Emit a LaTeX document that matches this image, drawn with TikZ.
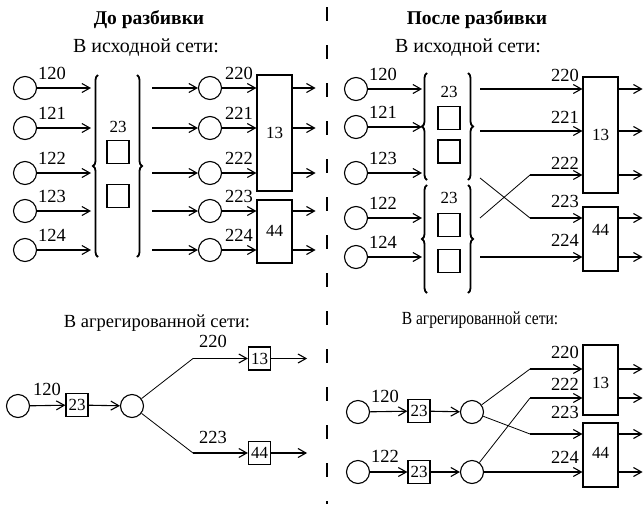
\documentclass[tikz,border=0pt]{standalone}
\usepackage{fontspec}
\usepackage{graphicx}
\setmainfont{Liberation Serif}
\newfontfamily\tmsfont{Liberation Serif}
\usetikzlibrary{arrows.meta,decorations.pathreplacing}
\begin{document}
\begin{tikzpicture}[x=1pt,y=-1pt,
  every node/.style={font=\tmsfont\fontsize{17}{19}\selectfont},
  circ/.style={circle,draw,line width=1.1pt,minimum size=23pt,inner sep=0pt},
  bigbox/.style={draw,line width=1.2pt,inner sep=0pt,minimum width=35pt},
  sq/.style={draw,line width=1.2pt,minimum width=22pt,minimum height=23pt,inner sep=0pt},
  lab/.style={anchor=base,inner sep=0pt,font=\tmsfont\fontsize{18.5}{20}\selectfont},
  ln/.style={line width=1.1pt},
  arr/.style={ln,-{Straight Barb[length=8pt,width=9pt]}},
  thinln/.style={line width=0.8pt},
  br/.style={decorate,decoration={brace,amplitude=5pt},line width=1.8pt},
  ttl/.style={font=\tmsfont\fontsize{19.5}{21}\selectfont\bfseries},
  subttl/.style={font=\tmsfont\fontsize{20}{22}\selectfont}]
\useasboundingbox (0,0) rectangle (643,504);

% divider
\draw[line width=1.3pt, dash pattern=on 14pt off 24pt] (327,7) -- (327,504);

% ---------------- top left ----------------
\node[ttl] (t1) at (149,20) {До разбивки};
\node[subttl] (s1) at (146,48) {В исходной сети:};
\node[bigbox,minimum height=116pt] (lb13) at (274.5,133) {};
\node[bigbox,minimum height=63pt] (lb44) at (274.5,231.5) {};
\node (lt13) at (274.5,133) {13};
\node (lt44) at (274.5,231) {44};
\draw[br] (98,257) -- (98,75);
\draw[br] (137,75) -- (137,257);
\node (l23) at (118,127) {23};
\node[sq] (lsq1) at (118,152) {};
\node[sq] (lsq2) at (118,196) {};
\foreach \n/\y/\b in {0/88/lb13,1/128/lb13,2/173/lb13,3/211/lb44,4/250/lb44} {
  \node[circ] (la\n) at (25,\y) {};
  \coordinate (lae\n) at (91,\y);
  \draw[arr] (la\n) -- (lae\n);
  \node[lab] (lal\n) at (52,\y-9) {12\n};
  \coordinate (lms\n) at (152,\y);
  \node[circ] (lm\n) at (210,\y) {};
  \draw[arr] (lms\n) -- (lm\n);
  \draw[arr] (lm\n) -- (lm\n -| \b.west);
  \node[lab] (lml\n) at (239,\y-9) {22\n};
  \draw[arr] (lm\n -| \b.east) -- ++(23,0);
}

% ---------------- top right ----------------
\node[ttl] (t2) at (477,20) {После разбивки};
\node[subttl] (s2) at (468,48) {В исходной сети:};
\node[bigbox,minimum height=116pt] (rb13) at (600.5,135) {};
\node[bigbox,minimum height=64pt] (rb44) at (600.5,239) {};
\node (rt13) at (600.5,135) {13};
\node (rt44) at (600.5,230) {44};
\foreach \n/\y/\l in {0/89/120,1/127/121,2/173/123,3/218/122,4/257/124} {
  \node[circ] (ra\n) at (356,\y) {};
  \coordinate (rae\n) at (422,\y);
  \draw[arr] (ra\n) -- (rae\n);
  \node[lab] (ral\n) at (383,\y-9) {\l};
}
\draw[br] (427,180) -- (427,73);
\draw[br] (468,73) -- (468,180);
\draw[br] (427,293) -- (427,185);
\draw[br] (468,185) -- (468,293);
\node (r23a) at (449,92) {23};
\node (r23b) at (449,198) {23};
\node[sq] (rsq1) at (449,118) {};
\node[sq] (rsq2) at (449,151.5) {};
\node[sq] (rsq3) at (449,225) {};
\node[sq] (rsq4) at (449,261) {};
\coordinate (rs0) at (480,89);
\coordinate (rs1) at (480,131);
\coordinate (rs2) at (480,178);
\coordinate (rs3) at (480,218);
\coordinate (rs4) at (480,257);
\coordinate (rk2) at (530,218);
\coordinate (rk3) at (530,175);
\draw[arr] (rs0) -- (rs0 -| rb13.west);
\draw[arr] (rs1) -- (rs1 -| rb13.west);
\draw[thinln] (rs2) -- (rk2);
\draw[arr] (rk2) -- (rk2 -| rb44.west);
\draw[thinln] (rs3) -- (rk3);
\draw[arr] (rk3) -- (rk3 -| rb13.west);
\draw[arr] (rs4) -- (rs4 -| rb44.west);
\node[lab] (rl0) at (565,81) {220};
\node[lab] (rl1) at (565,123) {221};
\node[lab] (rl2) at (565,169) {222};
\node[lab] (rl3) at (565,207) {223};
\node[lab] (rl4) at (565,246) {224};
\foreach \y/\b in {89/rb13,131/rb13,175/rb13,218/rb44,257/rb44} {
  \coordinate (ro) at (618,\y);
  \draw[arr] (ro -| \b.east) -- ++(24,0);
}

% ---------------- bottom left ----------------
\node[subttl,font=\tmsfont\fontsize{18.5}{20}\selectfont] (s3) at (157,323) {В агрегированной сети:};
\node[circ] (bl1) at (18,406) {};
\node[sq] (bl23) at (77,405) {23};
\node[circ] (bl2) at (132,406) {};
\draw[arr] (bl1) -- (bl23);
\draw[arr] (bl23) -- (bl2);
\node[lab] (bll0) at (47,395) {120};
\node[sq] (bl13) at (259.5,358.5) {13};
\node[sq] (bl44) at (259.5,453) {44};
\coordinate (blk1) at (193,358.5);
\coordinate (blk2) at (193,453);
\draw[thinln] (bl2) -- (blk1);
\draw[arr] (blk1) -- (bl13);
\draw[thinln] (bl2) -- (blk2);
\draw[arr] (blk2) -- (bl44);
\draw[arr] (bl13.east) -- ++(36,0);
\draw[arr] (bl44.east) -- ++(36,0);
\node[lab] (bll1) at (213,347) {220};
\node[lab] (bll2) at (213,443) {223};

% ---------------- bottom right ----------------
\node[subttl,font=\tmsfont\fontsize{18.5}{20}\selectfont] (s4) at (480,320) {\scalebox{0.84}[1]{В агрегированной сети:}};
\node[circ] (br1) at (358,412) {};
\node[circ] (br2) at (358,472) {};
\node[sq] (br23a) at (419,411) {23};
\node[sq] (br23b) at (419,472) {23};
\node[circ] (bm1) at (472,412) {};
\node[circ] (bm2) at (472,472) {};
\draw[arr] (br1) -- (br23a);
\draw[arr] (br2) -- (br23b);
\draw[arr] (br23a) -- (bm1);
\draw[arr] (br23b) -- (bm2);
\node[lab] (brl0) at (385,402) {120};
\node[lab] (brl1) at (385,462) {122};
\node[bigbox,minimum height=70pt] (brb13) at (600.5,380) {};
\node[bigbox,minimum height=64pt] (brb44) at (600.5,455) {};
\node (brt13) at (600.5,383) {13};
\node (brt44) at (600.5,453) {44};
\coordinate (bk1) at (530,369);
\coordinate (bk2) at (530,398);
\coordinate (bk3) at (530,434);
\draw[thinln] (bm1) -- (bk1);
\draw[arr] (bk1) -- (bk1 -| brb13.west);
\draw[thinln] (bm2) -- (bk2);
\draw[arr] (bk2) -- (bk2 -| brb13.west);
\draw[thinln] (bm1) -- (bk3);
\draw[arr] (bk3) -- (bk3 -| brb44.west);
\draw[arr] (bm2) -- (bm2 -| brb44.west);
\node[lab] (brl2) at (565,358) {220};
\node[lab] (brl3) at (565,390) {222};
\node[lab] (brl4) at (565,418) {223};
\node[lab] (brl5) at (565,463) {224};
\foreach \y/\b in {369/brb13,398/brb13,434/brb44,472/brb44} {
  \coordinate (bo) at (618,\y);
  \draw[arr] (bo -| \b.east) -- ++(24,0);
}
\end{tikzpicture}
\end{document}
